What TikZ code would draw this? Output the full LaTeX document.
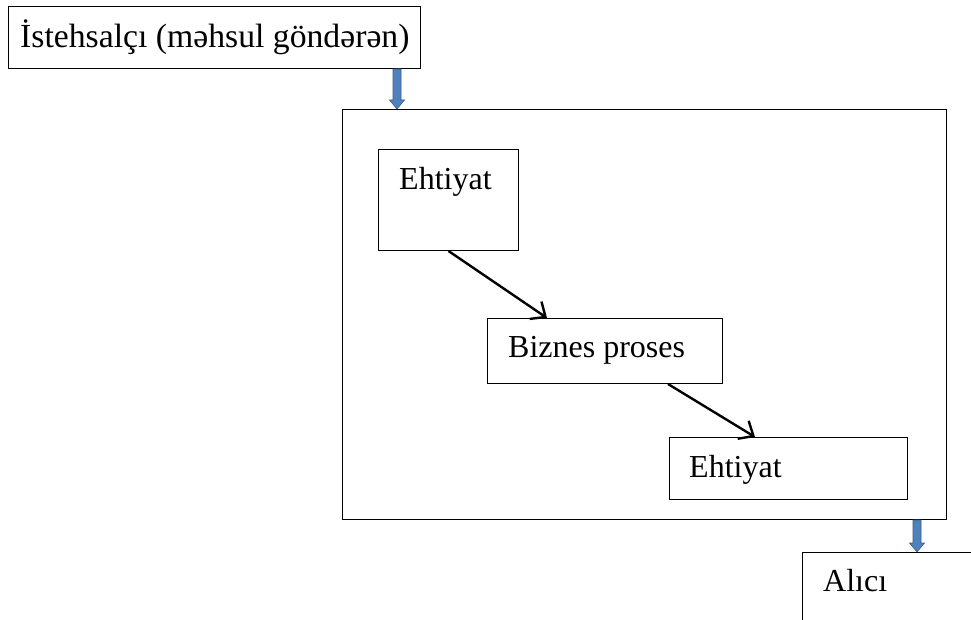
\documentclass[tikz,border=0pt]{standalone}
\usepackage{fontspec}
\setmainfont{Liberation Serif}
\usetikzlibrary{arrows.meta,calc}

\definecolor{arrowfill}{RGB}{79,129,189}
\definecolor{arrowedge}{RGB}{56,93,138}

% vertical block arrow from point #1 straight down to the level of point #2
\newcommand\blockarrowdown[2]{%
  \path[blockarrow] let \p1=(#1), \p2=(#2) in
    (\x1-4pt,\y1) -- (\x1+4pt,\y1) -- (\x1+4pt,\y2+9pt) -- (\x1+7.5pt,\y2+9pt)
    -- (\x1,\y2) -- (\x1-7.5pt,\y2+9pt) -- (\x1-4pt,\y2+9pt) -- cycle;}

\begin{document}
\begin{tikzpicture}[x=1pt,y=-1pt,
  font=\fontsize{32}{38}\selectfont,
  box/.style={draw, line width=1pt, inner sep=0pt, anchor=north west},
  txt/.style={anchor=base west, inner sep=0pt},
  flow/.style={line width=2.4pt, -{Straight Barb[length=12pt,width=21pt,line width=2.4pt]}},
  blockarrow/.style={fill=arrowfill, draw=arrowedge, line width=0.6pt}]

  \useasboundingbox (0,0) rectangle (971,620);
  \clip (0,0) rectangle (971,620);

  % boxes
  \node[box, minimum width=412pt, minimum height=62pt]  (prod)  at (8,6)     {};
  \node[box, minimum width=604pt, minimum height=410pt] (frame) at (342,109) {};
  \node[box, minimum width=140pt, minimum height=101pt] (e1)    at (378,149) {};
  \node[box, minimum width=235pt, minimum height=65pt]  (bp)    at (487,318) {};
  \node[box, minimum width=238pt, minimum height=62pt]  (e2)    at (669,437) {};
  \node[box, minimum width=220pt, minimum height=120pt] (alici) at (802,552) {};

  % labels
  \node[txt, font=\fontsize{33.7}{40}\selectfont] (tprod) at (20,48) {İstehsalçı (məhsul göndərən)};
  \node[txt] (te1)    at (399,190) {Ehtiyat};
  \node[txt] (tbp)    at (508,357) {Biznes proses};
  \node[txt] (te2)    at (689,477) {Ehtiyat};
  \node[txt] (talici) at (823,591) {Alıcı};

  % internal flow
  \draw[flow] (e1.south) -- ($(bp.north west)+(60,0)$);
  \draw[flow] ($(bp.south west)+(181,0)$) -- ($(e2.north west)+(86,0)$);

  % inbound and outbound block arrows
  \coordinate (inA)  at ($(prod.south east)+(-24,0)$);
  \coordinate (inB)  at (inA |- frame.north);
  \coordinate (outA) at ($(frame.south east)+(-30,0)$);
  \coordinate (outB) at (outA |- alici.north);
  \blockarrowdown{inA}{inB}
  \blockarrowdown{outA}{outB}
\end{tikzpicture}
\end{document}
